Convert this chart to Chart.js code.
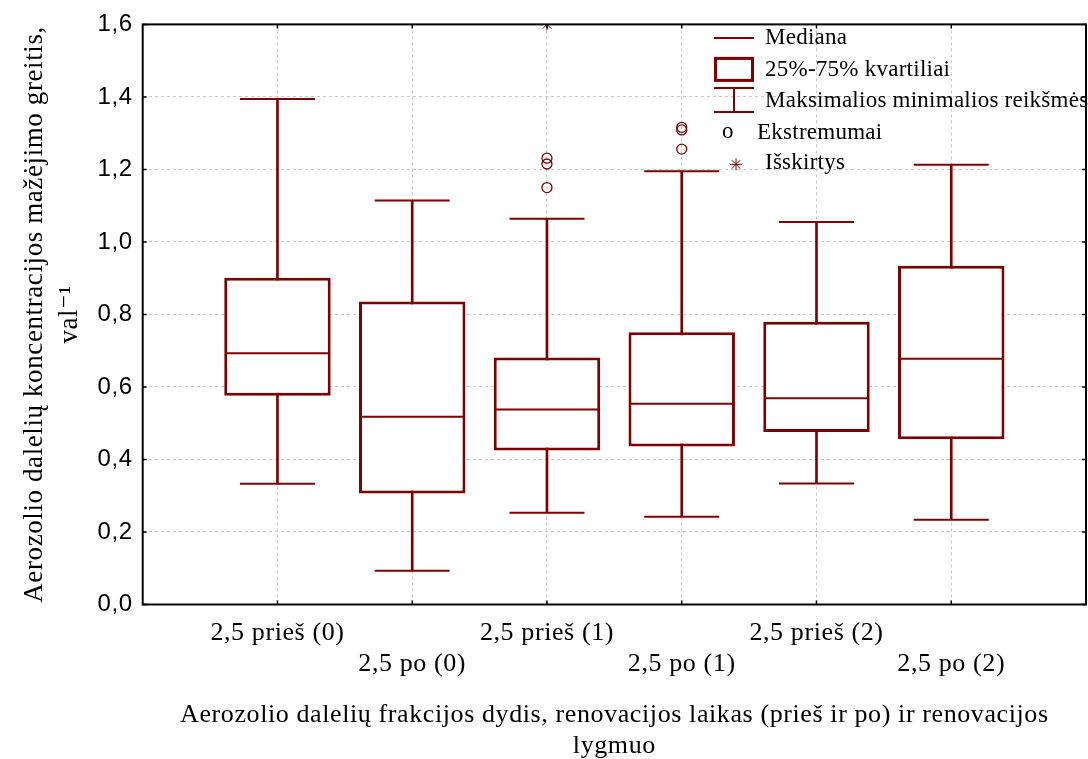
<!DOCTYPE html>
<html>
<head>
<meta charset="utf-8">
<title>Aerozolio dalelių koncentracijos mažėjimo greitis</title>
<script src="https://cdn.jsdelivr.net/npm/chart.js@4.4.1/dist/chart.umd.min.js"></script>
<style>
    html, body { margin: 0; padding: 0; background: #fff; }
    #wrap { position: relative; width: 1088px; height: 759px; }
</style>
</head>
<body>
<div id="wrap"><canvas id="boxChart"></canvas></div>
<script>
// Categories sit on x = 1..6 of a 0..7 axis
const categories = ['2,5 prieš (0)', '2,5 po (0)', '2,5 prieš (1)', '2,5 po (1)', '2,5 prieš (2)', '2,5 po (2)'];
const positions = [1, 2, 3, 4, 5, 6];

// Box plot statistics
const minValues    = [0.333, 0.093, 0.253, 0.242, 0.334, 0.234];
const q1Values     = [0.576, 0.306, 0.425, 0.436, 0.476, 0.456];
const medianValues = [0.693, 0.518, 0.538, 0.554, 0.569, 0.678];
const q3Values     = [0.901, 0.836, 0.681, 0.751, 0.780, 0.934];
const maxValues    = [1.394, 1.114, 1.064, 1.195, 1.055, 1.213];

// Extremes (circles) and outliers (star)
const extremeX = [3, 3, 3, 4, 4, 4];
const extremeY = [1.231, 1.215, 1.150, 1.316, 1.309, 1.256];
const outlierX = [3];
const outlierY = [1.6];

// Axis tick labels
const yTickLabels = ['0,0', '0,2', '0,4', '0,6', '0,8', '1,0', '1,2', '1,4', '1,6'];

const legendLabels = ['Mediana', '25%-75% kvartiliai', 'Maksimalios minimalios reikšmės', 'Ekstremumai', 'Išskirtys'];

const MAROON = '#800000';
const SERIF = '"Liberation Serif", "Times New Roman", "DejaVu Serif", serif';
const SANS = '"Liberation Sans", Arial, sans-serif';
const LETTER_SPACING = '0.6px';

/**
 * Statistica draws its text slightly spaced out
 */
const spacingPlugin = {
    id: 'spacing',
    beforeUpdate(chart) { chart.ctx.letterSpacing = LETTER_SPACING; },
    beforeDraw(chart) { chart.ctx.letterSpacing = LETTER_SPACING; }
};

/**
 * Frame round the plot area with small inner tick marks
 */
const framePlugin = {
    id: 'frame',
    afterDraw(chart) {
        const { ctx, chartArea: a, scales } = chart;
        ctx.save();
        ctx.strokeStyle = '#000';
        ctx.lineWidth = 2;
        ctx.strokeRect(a.left, a.top, a.right - a.left, a.bottom - a.top);

        ctx.lineWidth = 1.5;
        ctx.beginPath();
        positions.forEach(p => {
            const x = scales.x.getPixelForValue(p);
            ctx.moveTo(x, a.bottom); ctx.lineTo(x, a.bottom - 4);
            ctx.moveTo(x, a.top); ctx.lineTo(x, a.top + 4);
        });
        scales.y.ticks.forEach(t => {
            const y = scales.y.getPixelForValue(t.value);
            ctx.moveTo(a.left, y); ctx.lineTo(a.left + 4, y);
            ctx.moveTo(a.right, y); ctx.lineTo(a.right - 4, y);
        });
        ctx.stroke();
        ctx.restore();
    }
};

/**
 * Statistica-style legend in the upper right corner
 */
const legendPlugin = {
    id: 'boxLegend',
    afterDraw(chart) {
        const { ctx, chartArea: a } = chart;
        const x0 = a.right - 372;
        const top = a.top;
        const tx = x0 + 51;

        ctx.save();
        ctx.strokeStyle = MAROON;
        ctx.fillStyle = '#000';
        ctx.font = '23px ' + SERIF;
        ctx.letterSpacing = '0.25px';
        ctx.textBaseline = 'middle';
        ctx.textAlign = 'left';

        // median
        ctx.lineWidth = 2;
        ctx.beginPath();
        ctx.moveTo(x0, top + 13.5); ctx.lineTo(x0 + 40, top + 13.5);
        ctx.stroke();
        ctx.fillText(legendLabels[0], tx, top + 14);

        // quartile box
        ctx.lineWidth = 3;
        ctx.strokeRect(x0 + 1.5, top + 34, 37, 22);
        ctx.fillText(legendLabels[1], tx, top + 46);

        // whiskers
        ctx.lineWidth = 2;
        ctx.beginPath();
        ctx.moveTo(x0, top + 63.5); ctx.lineTo(x0 + 40, top + 63.5);
        ctx.moveTo(x0, top + 87.5); ctx.lineTo(x0 + 40, top + 87.5);
        ctx.moveTo(x0 + 20, top + 63.5); ctx.lineTo(x0 + 20, top + 87.5);
        ctx.stroke();
        ctx.fillText(legendLabels[2], tx, top + 77);

        // extremes
        ctx.fillText('o', x0 + 8, top + 108);
        ctx.fillText(legendLabels[3], x0 + 43, top + 109);

        // outliers
        const sx = x0 + 22, sy = top + 140, r = 6, d = r * Math.SQRT1_2;
        ctx.lineWidth = 1;
        ctx.beginPath();
        ctx.moveTo(sx - r, sy); ctx.lineTo(sx + r, sy);
        ctx.moveTo(sx, sy - r); ctx.lineTo(sx, sy + r);
        ctx.moveTo(sx - d, sy - d); ctx.lineTo(sx + d, sy + d);
        ctx.moveTo(sx - d, sy + d); ctx.lineTo(sx + d, sy - d);
        ctx.stroke();
        ctx.fillText(legendLabels[4], tx, top + 139);

        ctx.restore();
    }
};

function setupBoxChart() {
    const ctx = document.getElementById('boxChart').getContext('2d');

    const stems = positions.map((x, i) => ({ x, y: [minValues[i], maxValues[i]] }));
    const boxes = positions.map((x, i) => ({ x, y: [q1Values[i], q3Values[i]] }));
    const medians = positions.map((x, i) => ({ x, y: medianValues[i] }));
    const caps = positions.map((x, i) => ({ x, y: minValues[i] }))
        .concat(positions.map((x, i) => ({ x, y: maxValues[i] })));
    const extremes = extremeX.map((x, i) => ({ x, y: extremeY[i] }));
    const outliers = outlierX.map((x, i) => ({ x, y: outlierY[i] }));

    new Chart(ctx, {
        type: 'bar',
        data: {
            datasets: [
                {
                    label: 'stem',
                    data: stems,
                    backgroundColor: MAROON,
                    borderWidth: 0,
                    barThickness: 2,
                    grouped: false,
                    order: 4
                },
                {
                    label: legendLabels[1],
                    data: boxes,
                    backgroundColor: '#ffffff',
                    borderColor: MAROON,
                    borderWidth: 3,
                    borderSkipped: false,
                    barPercentage: 0.79,
                    categoryPercentage: 1,
                    grouped: false,
                    order: 3
                },
                {
                    type: 'scatter',
                    label: legendLabels[0],
                    data: medians,
                    pointStyle: 'line',
                    pointRadius: 52,
                    borderColor: MAROON,
                    pointBorderColor: MAROON,
                    pointBorderWidth: 2,
                    order: 1
                },
                {
                    type: 'scatter',
                    label: legendLabels[2],
                    data: caps,
                    pointStyle: 'line',
                    pointRadius: 37.5,
                    borderColor: MAROON,
                    pointBorderColor: MAROON,
                    pointBorderWidth: 2,
                    order: 2
                },
                {
                    type: 'scatter',
                    label: legendLabels[3],
                    data: extremes,
                    pointStyle: 'circle',
                    pointRadius: 5,
                    borderColor: MAROON,
                    pointBorderColor: MAROON,
                    pointBackgroundColor: 'rgba(255,255,255,0)',
                    pointBorderWidth: 1.3,
                    order: 1
                },
                {
                    type: 'scatter',
                    label: legendLabels[4],
                    data: outliers,
                    pointStyle: 'star',
                    pointRadius: 6,
                    borderColor: MAROON,
                    pointBorderColor: MAROON,
                    pointBorderWidth: 1,
                    clip: 0,
                    order: 1
                }
            ]
        },
        options: {
            responsive: true,
            maintainAspectRatio: false,
            animation: false,
            events: [],
            layout: { autoPadding: false, padding: { top: 22.5, right: 2, left: 0, bottom: 0 } },
            plugins: {
                legend: { display: false },
                tooltip: { enabled: false }
            },
            scales: {
                x: {
                    type: 'linear',
                    min: 0,
                    max: 7,
                    offset: false,
                    grid: { color: '#c8c8c8', lineWidth: 1, drawTicks: false, offset: false, borderDash: [3, 3] },
                    border: { display: false, dash: [3, 3] },
                    ticks: {
                        stepSize: 1,
                        autoSkip: false,
                        maxRotation: 0,
                        minRotation: 0,
                        padding: 13,
                        color: '#000',
                        font: { family: SERIF, size: 26, lineHeight: 1.2 },
                        callback: function(value) {
                            const i = positions.indexOf(value);
                            if (i < 0) return '';
                            return i % 2 === 0 ? categories[i] : ['', categories[i]];
                        }
                    },
                    title: {
                        display: true,
                        text: ['Aerozolio dalelių frakcijos dydis, renovacijos laikas (prieš ir po) ir renovacijos', 'lygmuo'],
                        color: '#000',
                        font: { family: SERIF, size: 26, lineHeight: 1.2 },
                        padding: { top: 0, bottom: -3 }
                    },
                    afterFit: function(scale) {
                        scale.height = 154.5;
                        scale.paddingLeft = 0;
                        scale.paddingRight = 0;
                    }
                },
                y: {
                    min: 0,
                    max: 1.6,
                    grid: { color: '#c8c8c8', lineWidth: 1, drawTicks: false, borderDash: [3, 3] },
                    border: { display: false, dash: [3, 3] },
                    ticks: {
                        stepSize: 0.2,
                        padding: 10,
                        color: '#000',
                        font: { family: SANS, size: 24 },
                        callback: function(value) {
                            return yTickLabels[Math.round(value / 0.2)];
                        }
                    },
                    title: {
                        display: true,
                        text: ['Aerozolio dalelių koncentracijos mažėjimo greitis,', 'val⁻¹'],
                        color: '#000',
                        font: { family: SERIF, size: 27, lineHeight: 1.3 },
                        padding: { top: 17, bottom: 0 }
                    },
                    afterFit: function(scale) { scale.width = 142.7; }
                }
            }
        },
        plugins: [spacingPlugin, framePlugin, legendPlugin]
    });
}

document.addEventListener('DOMContentLoaded', setupBoxChart);
</script>
</body>
</html>
